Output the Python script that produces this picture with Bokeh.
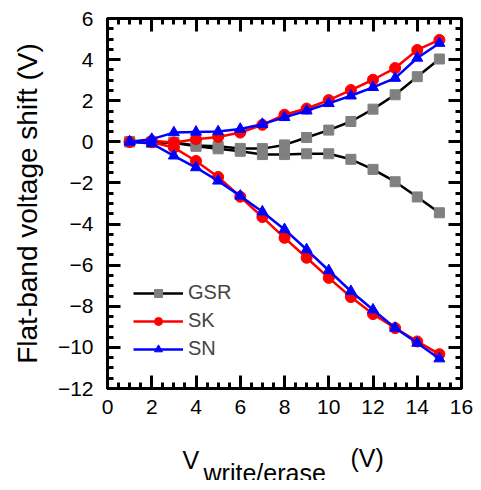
from bokeh.plotting import figure
from bokeh.layouts import column
from bokeh.models import (Range1d, LinearAxis, SingleIntervalTicker, Legend, LegendItem,
                          CustomJSTickFormatter, ColumnDataSource)
from bokeh.core.properties import value
from bokeh.embed import file_html
from bokeh.resources import INLINE

# ---- data ----
v_write_erase = [1, 2, 3, 4, 5, 6, 7, 8, 9, 10, 11, 12, 13, 14, 15]
gsr_write = [0, -0.02, -0.03, -0.18, -0.22, -0.32, -0.33, -0.15, 0.21, 0.57, 0.99, 1.59, 2.29, 3.17, 4.03]
gsr_erase = [0, -0.02, -0.05, -0.22, -0.34, -0.46, -0.62, -0.62, -0.58, -0.58, -0.85, -1.34, -1.94, -2.68, -3.45]
sk_write = [0, 0.05, -0.03, 0.13, 0.24, 0.45, 0.83, 1.32, 1.62, 2.03, 2.52, 3.02, 3.59, 4.47, 4.96]
sk_erase = [0, -0.02, -0.28, -0.93, -1.71, -2.67, -3.66, -4.67, -5.64, -6.62, -7.55, -8.38, -9.06, -9.71, -10.33]
sn_write = [0, 0.13, 0.45, 0.48, 0.50, 0.62, 0.86, 1.19, 1.51, 1.87, 2.24, 2.65, 3.10, 4.08, 4.80]
sn_erase = [0, -0.08, -0.68, -1.25, -1.90, -2.63, -3.40, -4.26, -5.24, -6.26, -7.27, -8.17, -9.06, -9.79, -10.55]
series_names = ["GSR", "SK", "SN"]
xlabel_parts = ["V", "write/erase", "(V)"]
ylabel = "Flat-band voltage shift (V)"

FONT = "Liberation Sans"

p = figure(title=None, frame_width=354, frame_height=370,
           x_range=Range1d(0, 16), y_range=Range1d(-12, 6),
           output_backend="svg", toolbar_location=None,
           min_border_left=107, min_border_top=18, min_border_right=12, min_border_bottom=46)
p.grid.visible = False
p.outline_line_color = "black"
p.outline_line_width = 3
p.background_fill_color = "white"
p.border_fill_color = "white"

def style_axis(ax, labels=True):
    ax.axis_line_width = 3
    ax.axis_line_color = "black"
    ax.major_tick_in = 13
    ax.major_tick_out = 0
    ax.minor_tick_in = 6
    ax.minor_tick_out = 0
    ax.major_tick_line_width = 3
    ax.minor_tick_line_width = 3
    ax.major_label_text_font = FONT
    ax.major_label_text_font_size = "21px"
    ax.major_label_text_color = "black"
    if not labels:
        ax.formatter = CustomJSTickFormatter(code="return ''")
        ax.major_label_standoff = 0

p.xaxis.ticker = SingleIntervalTicker(interval=2, num_minor_ticks=4)
p.yaxis.ticker = SingleIntervalTicker(interval=2, num_minor_ticks=4)
style_axis(p.xaxis[0])
style_axis(p.yaxis[0])
p.xaxis.major_label_standoff = 11
p.yaxis.major_label_standoff = 14
p.yaxis.axis_label = ylabel
p.yaxis.axis_label_text_font = FONT
p.yaxis.axis_label_text_font_size = "28px"
p.yaxis.axis_label_text_font_style = "normal"
p.yaxis.axis_label_text_color = "black"
p.yaxis.axis_label_standoff = 12

ax_r = LinearAxis(ticker=SingleIntervalTicker(interval=2, num_minor_ticks=4))
style_axis(ax_r, labels=False)
p.add_layout(ax_r, "right")
ax_t = LinearAxis(ticker=SingleIntervalTicker(interval=2, num_minor_ticks=4))
style_axis(ax_t, labels=False)
p.add_layout(ax_t, "above")

# ---- series ----
LW = 2.5
g1 = p.line(v_write_erase, gsr_write, line_color="black", line_width=LW)
g2 = p.line(v_write_erase, gsr_erase, line_color="black", line_width=LW)
g3 = p.scatter(v_write_erase, gsr_write, marker="square", size=10, fill_color="#808080", line_color="#808080")
g4 = p.scatter(v_write_erase, gsr_erase, marker="square", size=10, fill_color="#808080", line_color="#808080")

k1 = p.line(v_write_erase, sk_write, line_color="red", line_width=LW)
k2 = p.line(v_write_erase, sk_erase, line_color="red", line_width=LW)
k3 = p.scatter(v_write_erase, sk_write, marker="circle", size=11, fill_color="red", line_color="red")
k4 = p.scatter(v_write_erase, sk_erase, marker="circle", size=11, fill_color="red", line_color="red")

n1 = p.line(v_write_erase, sn_write, line_color="blue", line_width=LW)
n2 = p.line(v_write_erase, sn_erase, line_color="blue", line_width=LW)
n3 = p.scatter(v_write_erase, sn_write, marker="triangle", size=11, fill_color="blue", line_color="blue")
n4 = p.scatter(v_write_erase, sn_erase, marker="triangle", size=11, fill_color="blue", line_color="blue")

legend = Legend(items=[
    LegendItem(label=series_names[0], renderers=[g1, g3]),
    LegendItem(label=series_names[1], renderers=[k1, k3]),
    LegendItem(label=series_names[2], renderers=[n1, n3]),
], location=(26, 28))
legend.glyph_width = 50
legend.glyph_height = 20
legend.label_height = 20
legend.label_standoff = 5
legend.spacing = 5
legend.padding = 0
legend.margin = 0
legend.border_line_color = None
legend.background_fill_alpha = 0
legend.label_text_font = FONT
legend.label_text_font_size = "20px"
legend.label_text_baseline = "middle"
p.add_layout(legend, "center")

# ---- x axis label (with subscript) drawn in a strip below the plot ----
q = figure(title=None, frame_width=354, frame_height=46,
           x_range=p.x_range, y_range=Range1d(0, 46),
           x_axis_type=None, y_axis_type=None,
           output_backend="svg", toolbar_location=None,
           min_border_left=107, min_border_right=12, min_border_top=0, min_border_bottom=0)
q.grid.visible = False
q.outline_line_color = None
q.background_fill_color = "white"
q.border_fill_color = "white"
src = ColumnDataSource(dict(x=[3.39, 4.34, 10.98], y=[21, 8, 23], text=xlabel_parts))
q.text(x="x", y="y", text="text", source=src, text_font=value(FONT), text_font_size="25px",
       text_color="black", text_baseline="alphabetic", text_align="left")

layout = column(p, q, spacing=0)
open("out.html", "w").write(file_html(layout, INLINE))
